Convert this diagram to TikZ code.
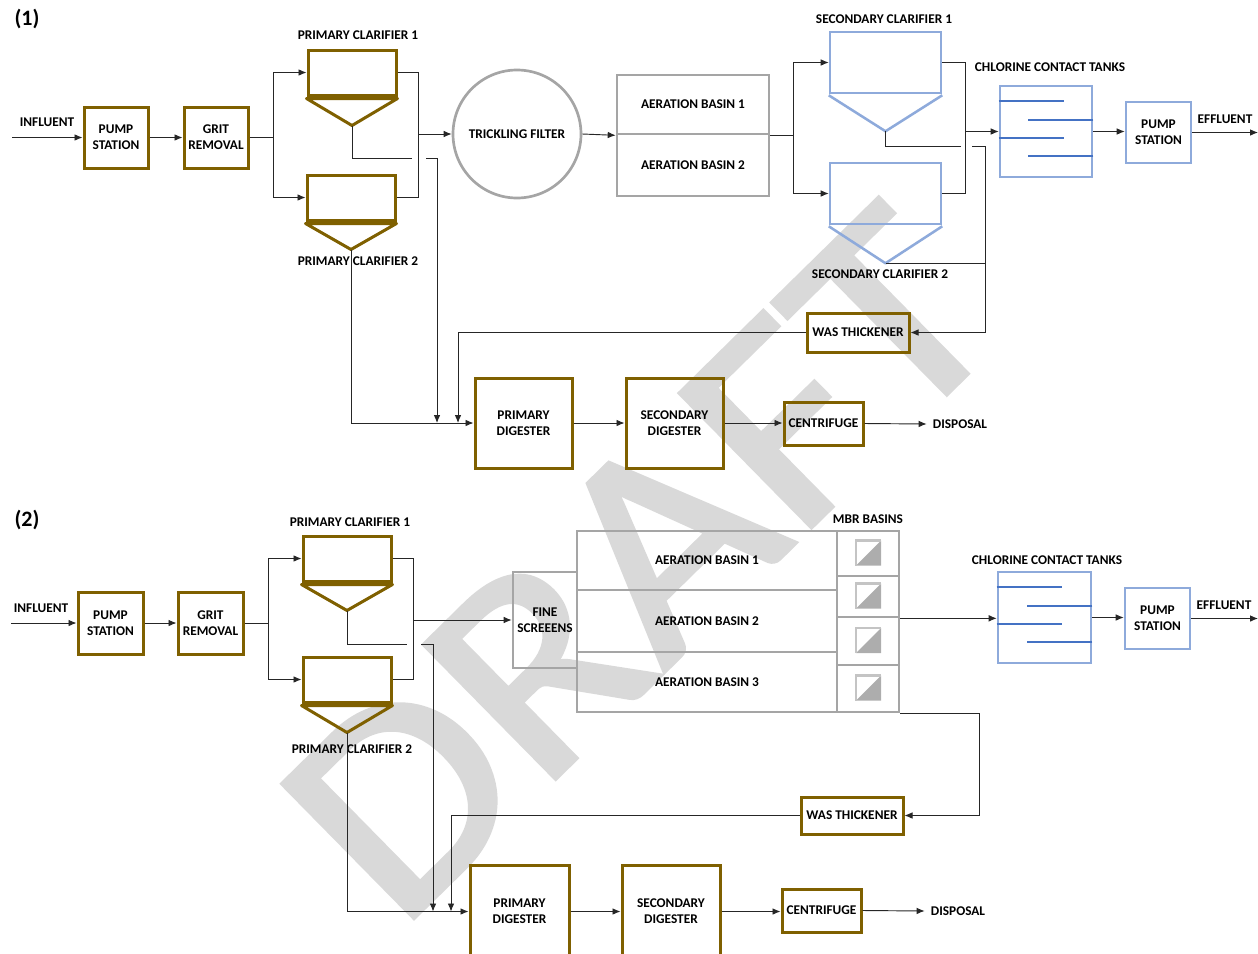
\documentclass[tikz,border=0pt]{standalone}
\usepackage{fontspec}
\setmainfont{Carlito}
\newfontfamily\wmfont[FakeBold=1.5]{Carlito}
\usetikzlibrary{arrows.meta,calc}
\definecolor{brn}{HTML}{7F6000}
\definecolor{ltblue}{HTML}{8EAADB}
\definecolor{dkblue}{HTML}{4472C4}
\definecolor{gry}{HTML}{A5A5A5}
\definecolor{icongray}{HTML}{ADADAD}
\definecolor{iconedge}{HTML}{C4C4C4}
\definecolor{wmgray}{HTML}{D9D9D9}
\begin{document}
\begin{tikzpicture}[x=0.75pt,y=-0.75pt,
    lbl/.style={font=\bfseries\fontsize{10}{12}\selectfont,align=center,inner sep=0pt},
    sz/.style 2 args={minimum width=#1*0.75pt,minimum height=#2*0.75pt},
    brownbox/.style={lbl,draw=brn,line width=2.25pt},
    bluebox/.style={lbl,draw=ltblue,line width=1.9pt},
    graybox/.style={lbl,draw=gry,line width=2pt},
    hopper/.style={line width=2.25pt,line join=round},
    pipe/.style={draw=black!85,line width=0.7pt},
    flow/.style={pipe,-{Latex[length=6pt,width=5pt]}},
    baffle/.style={draw=dkblue,line width=1.6pt},
    panel/.style={font=\bfseries\fontsize{16.5}{18}\selectfont,inner sep=0pt}]
  \useasboundingbox (0,0) rectangle (1258,954);
  \clip (0,0) rectangle (1258,954);

  % watermark
  \node[rotate=44.5,xscale=1.02,yscale=0.93,text=wmgray,inner sep=0pt,font=\wmfont\fontsize{236}{236}\selectfont] (wm) at (640,564) {DRAFT};

  % ---------------- (1) ----------------
  \node[panel] (p1) at (27,19) {(1)};
  \node[lbl] (infl1) at (47,122) {INFLUENT};
  \coordinate (src1) at (12,136);
  \node[brownbox,sz={64}{61}] (ps1) at (116,137.5) {PUMP\\STATION};
  \node[brownbox,sz={64}{61}] (gr1) at (216,137.5) {GRIT\\REMOVAL};
  \node[brownbox,sz={88}{45}] (pc1) at (352,72.5) {};
  \node[brownbox,sz={88}{45}] (pc2) at (351,197.5) {};
  \node[lbl] (pc1t) at (358,35) {PRIMARY CLARIFIER 1};
  \node[lbl] (pc2t) at (358,261) {PRIMARY CLARIFIER 2};
  \node[graybox,circle,sz={128}{128}] (tf1) at (517,134) {TRICKLING FILTER};
  \node[graybox,sz={152}{59}] (ab11) at (693,104.5) {AERATION BASIN 1};
  \node[graybox,sz={152}{62}] (ab12) at (693,165) {AERATION BASIN 2};
  \node[bluebox,sz={111}{61}] (sc1) at (885.5,62.5) {};
  \node[bluebox,sz={111}{61}] (sc2) at (885.5,193.5) {};
  \node[lbl] (sc1t) at (884,19) {SECONDARY CLARIFIER 1};
  \node[lbl] (sc2t) at (880,274) {SECONDARY CLARIFIER 2};
  \node[bluebox,sz={92}{91}] (cct1) at (1046,131.5) {};
  \node[lbl] (cct1t) at (1050,67) {CHLORINE CONTACT TANKS};
  \node[bluebox,sz={65}{61}] (ps12) at (1158.5,132.5) {PUMP\\STATION};
  \node[lbl] (eff1) at (1225,119) {EFFLUENT};
  \coordinate (out1) at (1258,133);
  \node[brownbox,sz={102}{39}] (was1) at (858,332.5) {WAS THICKENER};
  \node[brownbox,sz={97}{90}] (pd1) at (523.5,423) {PRIMARY\\DIGESTER};
  \node[brownbox,sz={97}{90}] (sd1) at (674.5,423) {SECONDARY\\DIGESTER};
  \node[brownbox,sz={79}{43}] (cf1) at (823.5,423.5) {CENTRIFUGE};
  \node[lbl,inner xsep=4.5pt] (disp1) at (960,424) {DISPOSAL};

  % hoppers
  \draw[hopper,brn] ($(pc1.south west)+(0,2)$) -- ($(pc1.south)+(0,29)$) coordinate (pc1tip) -- ($(pc1.south east)+(0,2)$) -- cycle;
  \draw[hopper,brn] ($(pc2.south west)+(0,2)$) -- ($(pc2.south)+(0,28)$) coordinate (pc2tip) -- ($(pc2.south east)+(0,2)$) -- cycle;
  \draw[hopper,ltblue,line width=1.9pt] ($(sc1.south west)+(0,1)$) -- ($(sc1.south)+(0,37)$) coordinate (sc1tip) -- ($(sc1.south east)+(0,1)$);
  \draw[hopper,ltblue,line width=1.9pt] ($(sc2.south west)+(0,1)$) -- ($(sc2.south)+(0,38)$) coordinate (sc2tip) -- ($(sc2.south east)+(0,1)$);

  % liquid train
  \draw[flow] (src1 |- ps1.west) -- (ps1.west);
  \draw[flow] (ps1) -- (gr1);
  \coordinate (sp1) at (273,0);
  \draw[pipe] (gr1.east) -- (gr1.east -| sp1);
  \draw[flow] (gr1.east -| sp1) |- (pc1.west);
  \draw[flow] (gr1.east -| sp1) |- (pc2.west);
  \coordinate (co1) at (418,0);
  \draw[pipe] (pc1.east) -| (co1 |- pc2.east) -- (pc2.east);
  \draw[flow] (co1 |- tf1.west) -- (tf1.west);
  \draw[flow] (tf1.east) -- (ab11.south west);
  \coordinate (sp2) at (793,0);
  \draw[pipe] (ab11.south east) -- (ab11.south east -| sp2);
  \draw[flow] (ab11.south east -| sp2) |- (sc1.west);
  \draw[flow] (ab11.south east -| sp2) |- (sc2.west);
  \coordinate (co2) at (965,0);
  \draw[pipe] (sc1.east) -| (co2 |- sc2.east) -- (sc2.east);
  \draw[flow] (co2 |- cct1.west) -- (cct1.west);
  \draw[flow] (cct1.east) -- (cct1.east -| ps12.west);
  \draw[flow] (ps12.east) -- (ps12.east -| out1);

  % solids train
  \coordinate (gap1a) at (412,158);
  \coordinate (gap1b) at (426,158);
  \coordinate (rs1) at (437,158);
  \draw[pipe] (pc1tip) |- (gap1a);
  \draw[flow] (gap1b) -- (rs1) -- (rs1 |- pd1.west);
  \draw[flow] (pc2tip) |- (pd1.west);
  \coordinate (gap2a) at (961,146);
  \coordinate (gap2b) at (972,146);
  \coordinate (rs2) at (985,146);
  \draw[pipe] (sc1tip) |- (gap2a);
  \draw[flow] (gap2b) -- (rs2) |- (was1.east);
  \draw[pipe] (sc2tip) -- (sc2tip -| rs2);
  \coordinate (rs3) at (458,0);
  \draw[flow] (was1.west) -| (rs3 |- pd1.west);
  \draw[flow] (pd1) -- (sd1);
  \draw[flow] (sd1.east) -- (sd1.east -| cf1.west);
  \draw[flow] (cf1.east) -- (disp1.west);

  % ---------------- (2) ----------------
  \node[panel] (p2) at (27,520) {(2)};
  \node[lbl] (infl2) at (41,608) {INFLUENT};
  \coordinate (src2) at (11,622);
  \node[brownbox,sz={65}{62}] (ps2) at (110.5,623) {PUMP\\STATION};
  \node[brownbox,sz={65}{62}] (gr2) at (210.5,623) {GRIT\\REMOVAL};
  \node[brownbox,sz={88}{45}] (pc21) at (347,558.5) {};
  \node[brownbox,sz={88}{45}] (pc22) at (347,679.5) {};
  \node[lbl] (pc21t) at (350,522) {PRIMARY CLARIFIER 1};
  \node[lbl] (pc22t) at (352,749) {PRIMARY CLARIFIER 2};
  \node[graybox,sz={64}{96}] (fs2) at (545,620) {FINE\\SCREEENS};
  \node[graybox,sz={260}{59}] (ab21) at (707,560.5) {AERATION BASIN 1};
  \node[graybox,sz={260}{62}] (ab22) at (707,621) {AERATION BASIN 2};
  \node[graybox,sz={260}{60}] (ab23) at (707,682) {AERATION BASIN 3};
  \node[lbl] (mbrt) at (868,519) {MBR BASINS};
  \foreach \yc/\h [count=\i] in {553.5/45,596.5/41,641/48,688.5/47}{
    \node[graybox,sz={62}{\h}] (mbr\i) at (868,\yc) {};
    \fill[icongray] ($(mbr\i.center)+(-12,12)$) -- ++(25,0) -- ++(0,-25) -- cycle;
    \draw[iconedge,line width=1.8pt] ($(mbr\i.center)+(-12,12)$) -- ++(0,-25) -- ++(25,0);
  }
  \node[bluebox,sz={93}{91}] (cct2) at (1044.5,617.5) {};
  \node[lbl] (cct2t) at (1047,560) {CHLORINE CONTACT TANKS};
  \node[bluebox,sz={65}{61}] (ps22) at (1157.5,618.5) {PUMP\\STATION};
  \node[lbl] (eff2) at (1224,605) {EFFLUENT};
  \coordinate (out2) at (1258,619);
  \node[brownbox,sz={102}{37}] (was2) at (852,815.5) {WAS THICKENER};
  \node[brownbox,sz={99}{93}] (pd2) at (519.5,911.5) {PRIMARY\\DIGESTER};
  \node[brownbox,sz={98}{93}] (sd2) at (671,911.5) {SECONDARY\\DIGESTER};
  \node[brownbox,sz={79}{43}] (cf2) at (821.5,910.5) {CENTRIFUGE};
  \node[lbl,inner xsep=4.5pt] (disp2) at (958,911) {DISPOSAL};

  % hoppers
  \draw[hopper,brn] ($(pc21.south west)+(0,2)$) -- ($(pc21.south)+(0,28)$) coordinate (pc21tip) -- ($(pc21.south east)+(0,2)$) -- cycle;
  \draw[hopper,brn] ($(pc22.south west)+(0,2)$) -- ($(pc22.south)+(0,29)$) coordinate (pc22tip) -- ($(pc22.south east)+(0,2)$) -- cycle;

  % baffles
  \foreach \t in {cct1,cct2}{
    \foreach \dy in {16,53}
      \draw[baffle] ($(\t.north west)+(0,\dy)$) -- ++(65,0);
    \foreach \dy in {35,71}
      \draw[baffle] ($(\t.north east)+(0,\dy)$) -- ++(-65,0);
  }

  % liquid train
  \draw[flow] (src2 |- ps2.west) -- (ps2.west);
  \draw[flow] (ps2) -- (gr2);
  \coordinate (sp3) at (268,0);
  \draw[pipe] (gr2.east) -- (gr2.east -| sp3);
  \draw[flow] (gr2.east -| sp3) |- (pc21.west);
  \draw[flow] (gr2.east -| sp3) |- (pc22.west);
  \coordinate (co3) at (413,0);
  \draw[pipe] (pc21.east) -| (co3 |- pc22.east) -- (pc22.east);
  \draw[flow] (co3 |- fs2.west) -- (fs2.west);
  \draw[flow] (mbr2.south east) -- (cct2.west |- mbr2.south east);
  \draw[flow] (cct2.east) -- (cct2.east -| ps22.west);
  \draw[flow] (ps22.east) -- (ps22.east -| out2);

  % solids train
  \coordinate (gap3a) at (407,644);
  \coordinate (gap3b) at (421,644);
  \coordinate (rs4) at (433,644);
  \draw[pipe] (pc21tip) |- (gap3a);
  \draw[flow] (gap3b) -- (rs4) -- (rs4 |- pd2.west);
  \draw[flow] (pc22tip) |- (pd2.west);
  \coordinate (rs5) at (979,0);
  \draw[flow] (mbr4.south east) -| (rs5 |- was2.east) -- (was2.east);
  \coordinate (rs6) at (451,0);
  \draw[flow] (was2.west) -| (rs6 |- pd2.west);
  \draw[flow] (pd2) -- (sd2);
  \draw[flow] (sd2.east) -- (sd2.east -| cf2.west);
  \draw[flow] (cf2.east) -- (disp2.west);
\end{tikzpicture}
\end{document}
